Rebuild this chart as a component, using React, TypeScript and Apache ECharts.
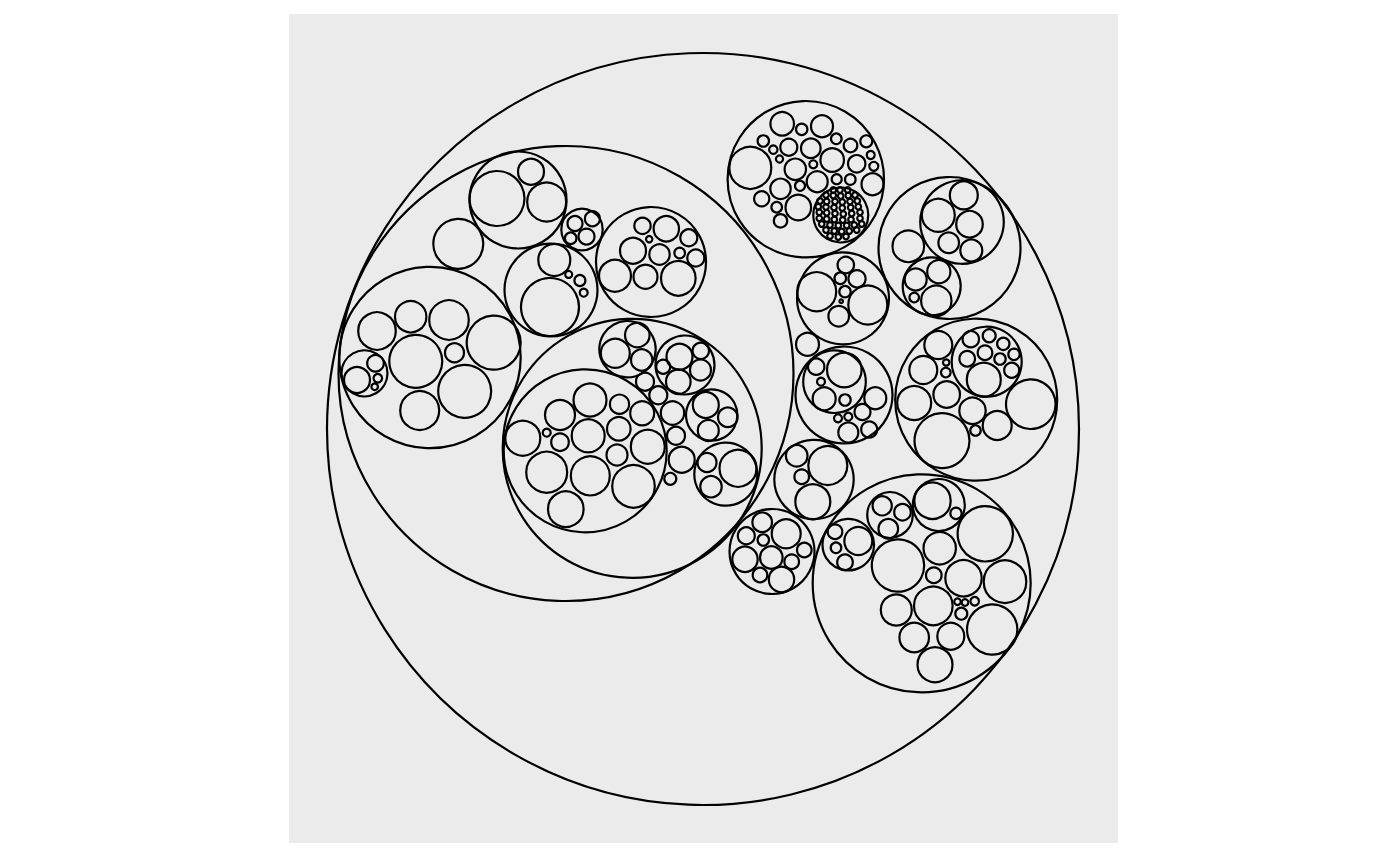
import React, { useEffect, useRef } from "react";
import * as echarts from "echarts";

// Circle-packing layout, each entry is [x, y, r] in the layout's own units
// (x to the right, y downward, panel spans 289..1118 by 14..843).
const outerCircle: number[][] = [[703, 429, 377]];

const westGroup: number[][] = [
  [566, 373.5, 228.5],
  // cluster A
  [518, 200, 49.5], [497, 198.5, 28.5], [531, 171.7, 14], [546.7, 202, 20.5],
  // lone
  [458.3, 243.8, 26],
  // cluster B
  [430, 357.5, 91.7], [377, 331, 19.8], [410.7, 316.7, 16.7], [449, 320, 20.8],
  [493.7, 342.7, 28], [415.8, 361.3, 27.5], [454.5, 352.8, 10.5], [464.7, 391.3, 27.5],
  [419.7, 410.5, 20.5], [364.5, 373.3, 24], [357, 380, 14], [375.5, 363.3, 9.3],
  [377.8, 378.3, 5.3], [374.7, 386.8, 4.3],
  // cluster C
  [551, 290, 47.5], [550, 307, 30], [554.3, 260, 17], [579.9, 280.5, 6.5],
  [568.7, 274.4, 4.5], [583.7, 292.7, 5],
  // cluster D
  [582, 229.5, 21.7], [575, 223.5, 8.5], [592.4, 218.7, 8.5], [586.5, 236.6, 9],
  [570.7, 238.3, 6.8],
  // cluster E
  [651, 262, 56], [642.5, 225.8, 9.2], [666.3, 228.7, 13.7], [688.8, 237.8, 9.5],
  [649.2, 239.2, 4.2], [633, 250.8, 14], [659.5, 254.5, 11.2], [679.7, 253, 6.3],
  [695.8, 258, 9.5], [615, 275.8, 17], [645.5, 276.7, 13], [678.3, 278.3, 18.3],
];

const westInnerGroup: number[][] = [
  [632.2, 448.3, 130.5],
  // cluster G
  [585.2, 450.8, 82.5], [522.8, 438.2, 18.5], [546.7, 432.7, 5], [560, 442.2, 9.8],
  [560, 415, 16], [590, 400, 17.5], [619.5, 404.2, 10.6], [642.2, 413.3, 13],
  [588.2, 435.8, 17.5], [618.8, 428.8, 12.8], [647.8, 446.7, 18], [617, 455, 11.5],
  [546.7, 472.2, 21.5], [590.3, 475.8, 20.5], [633.5, 486.3, 22.3], [565.8, 509.2, 18.8],
  // cluster H
  [627.5, 349.2, 29.2], [615.3, 353.3, 15.5], [637.3, 335, 13.3], [641.7, 360, 11.7],
  // cluster I
  [685, 365, 30.5], [679.5, 356.7, 14], [700.8, 350.8, 9.2], [700.5, 370, 11.5],
  [678.3, 381.7, 13.3], [663.2, 366.7, 8],
  // loose leaves
  [645, 381.7, 10], [658.3, 395.3, 10], [672.5, 413, 12.7], [676, 435.8, 10],
  [681.7, 459.7, 14], [670.3, 478.8, 7],
  // cluster J
  [711.7, 415, 26.7], [705.8, 405, 14], [727.8, 417.2, 10.8], [708.3, 430.5, 11.5],
  // cluster K
  [725.8, 474.2, 32.5], [738, 468.3, 19.5], [707, 462.5, 10.5], [711, 486.7, 11.7],
];

const northGroup: number[][] = [
  [805.8, 179.2, 79.2],
  [750.3, 167.8, 22], [782.2, 123.8, 12.8], [801.7, 129.3, 6.7], [822, 126.3, 12],
  [763.3, 141, 6.7], [773.3, 149.7, 5.2], [788.8, 147.2, 9.5], [810.8, 148.3, 10.8],
  [836.3, 138.8, 6.3], [850.5, 145.5, 7.8], [866.3, 141.3, 7], [832.2, 160, 12.8],
  [856.7, 163.8, 9.7], [870.7, 155, 5], [873.8, 166.3, 5.5], [779.5, 159, 4.6],
  [795.3, 169.3, 11.7], [813.3, 164.3, 5], [780.5, 188.8, 11.2], [800, 185.8, 6],
  [817.2, 181.7, 11.5], [836.7, 179.2, 6], [850.3, 179.5, 6.3], [872.5, 184.2, 12],
  [761.7, 198.8, 8.6], [776.7, 207.2, 6.3], [798.3, 207.5, 13.8], [780.5, 220.8, 7.7],
  [840.8, 215, 28.5],
];

const denseLeaves: number[][] = [
  [833.3, 190, 3.8], [840, 190, 3.8], [847.7, 190, 3.8],
  [826, 195, 3.8], [833.3, 195.5, 3.8], [840.7, 196, 3.8], [848.3, 195.5, 3.8], [855, 195, 3.8],
  [820, 201, 3.8], [826.7, 201.5, 3.8], [835, 201.5, 3.8], [842.3, 202, 3.8], [850, 201.5, 3.8], [857.3, 201, 3.8],
  [818.3, 206.7, 3.8], [826, 207, 3.8], [834, 207.5, 3.8], [842.3, 208, 3.8], [850.7, 207.5, 3.8], [858.3, 206.7, 3.8],
  [819.3, 212.3, 3.8], [826.7, 212.8, 3.8], [835, 213.5, 3.8], [843.3, 214, 3.8], [851.7, 213.5, 3.8], [860, 212.3, 3.8],
  [819.3, 218.3, 3.8], [826.7, 219, 3.8], [834.3, 219.5, 3.8], [842.7, 220, 3.8], [851, 219.5, 3.8], [860, 218.3, 3.8],
  [821.7, 224, 3.8], [830, 225, 3.8], [838.3, 225.5, 3.8], [846.7, 225.5, 3.8], [854.3, 225, 3.8], [861.7, 224, 3.8],
  [826, 230, 3.8], [834.3, 231, 3.8], [841.7, 231.5, 3.8], [849.3, 231, 3.8], [856.7, 230, 3.8],
  [830, 236, 3.8], [838.3, 237, 3.8], [846, 236.5, 3.8],
];

const northEastGroup: number[][] = [
  [949.5, 248, 72],
  [962, 222, 42.8], [963.8, 195.3, 15], [938.3, 215.3, 17.5], [969.5, 224.2, 14.3],
  [948.7, 242.8, 11.3], [971.3, 250.5, 12],
  [908.3, 246.3, 16.8],
  [931.7, 286.3, 30], [938.8, 271.7, 12.6], [915.7, 279.5, 12], [936.3, 300.8, 16.2],
  [914.2, 297.5, 5.8],
];

const centreGroup: number[][] = [
  // cluster N
  [843, 298.3, 47], [816.7, 291.7, 20.5], [845.8, 265, 9.2], [840.3, 278.3, 6.8],
  [857, 278.8, 9.6], [845, 291.7, 6.7], [841.2, 301.2, 2.8], [867.8, 305, 20.5],
  [838.7, 316.2, 11.3],
  // lone
  [807.5, 344.3, 12.5],
  // cluster O
  [844, 395, 49.5], [834.5, 381.7, 32.3], [844.3, 370, 18.3], [816.2, 366.7, 9.2],
  [821, 381.7, 5], [824.2, 398.8, 12.5], [845, 400, 6.7], [875.3, 398.3, 12],
  [862.5, 412, 9], [838, 418.3, 5], [848.3, 416.7, 5], [848.3, 432.5, 11],
  [869.2, 429.5, 9],
];

const eastGroup: number[][] = [
  [976.2, 399.7, 82],
  [986.7, 361.7, 36], [970.8, 339.2, 9.2], [989.2, 335.8, 7.5], [1003.3, 343.8, 7.2],
  [967.2, 358.8, 8.8], [985, 352.7, 8.3], [1000, 359, 6.7], [1014, 354.3, 6.7],
  [1011.7, 370.3, 8.5], [983.8, 379.7, 18],
  [938.3, 345, 15], [923.3, 370, 15], [946.2, 362.5, 4.2], [945.8, 372.5, 5.8],
  [914.2, 403, 18], [946.7, 394.5, 14.3], [972.5, 410.8, 14.2], [975.5, 430.5, 6.2],
  [997.2, 425.5, 15.5], [1030.8, 404.2, 25.8], [942, 440.7, 28.5],
];

const southGroup: number[][] = [
  // cluster Q
  [814, 479.5, 40.7], [796.7, 455.8, 11.8], [827.8, 465.5, 20.5], [801.7, 476.7, 8.3],
  [812.8, 501.7, 18.5],
  // cluster R
  [772, 551.5, 43.5], [762.2, 522.2, 10.8], [786.2, 533.8, 15.5], [746.3, 535.8, 9.5],
  [763.3, 540, 6.7], [804.3, 550, 8.3], [745, 559.2, 13.7], [771.3, 557.5, 12.3],
  [791.7, 561.7, 8.3], [760, 575, 8.3], [781.5, 579.5, 13.7],
  // cluster S
  [921.7, 583.3, 110],
  [848.3, 544.7, 26.8], [835, 531.7, 8.3], [858.3, 541, 15], [836, 547.8, 6.3], [845, 562.2, 8.8],
  [890, 515, 23.8], [882.2, 505.8, 10.6], [902.5, 512.2, 9.3], [888.3, 528.8, 10.8],
  [938.8, 505, 27], [932.5, 500.8, 19.2], [956, 513.3, 6.7],
  [985.3, 533.8, 28.7], [898, 565.5, 27.2], [939.7, 548.2, 17.2], [933.8, 575.3, 8.8],
  [963.5, 578.3, 19.2], [1005, 581.7, 22.3], [896.3, 610, 16.5], [933.3, 605.8, 20.3],
  [957.5, 601.7, 4.3], [965, 602.5, 4.3], [974.7, 601.3, 5.3], [961.3, 613.7, 7],
  [992.2, 629.5, 26.2], [914.2, 637.5, 15.8], [950.8, 636.3, 14.5], [935, 664.7, 18.5],
];

const allCircles: number[][] = [
  ...outerCircle,
  ...westGroup,
  ...westInnerGroup,
  ...northGroup,
  ...denseLeaves,
  ...northEastGroup,
  ...centreGroup,
  ...eastGroup,
  ...southGroup,
];

const LINE_WIDTH = 2.2;

export default function App() {
  const ref = useRef<HTMLDivElement>(null);

  useEffect(() => {
    if (!ref.current) return;
    const chart = echarts.init(ref.current, undefined, { renderer: "svg" });
    chart.setOption({
      animation: false,
      backgroundColor: "#FFFFFF",
      grid: {
        show: true,
        left: 289,
        top: 14,
        width: 829,
        height: 829,
        backgroundColor: "#EBEBEB",
        borderWidth: 0,
      },
      xAxis: { type: "value", min: 289, max: 1118, show: false },
      yAxis: { type: "value", min: 14, max: 843, inverse: true, show: false },
      series: [
        {
          type: "custom",
          coordinateSystem: "cartesian2d",
          silent: true,
          clip: false,
          encode: { x: 0, y: 1 },
          data: allCircles,
          renderItem: (params: any, api: any) => {
            const c = api.coord([api.value(0), api.value(1)]);
            const rp = Math.abs(api.size([api.value(2), 0])[0]);
            return {
              type: "circle",
              shape: { cx: c[0], cy: c[1], r: Math.max(rp - 1, 0.6) },
              style: { fill: "none", stroke: "#000000", lineWidth: LINE_WIDTH },
            };
          },
        },
      ],
    });
    return () => chart.dispose();
  }, []);

  return (
    <div
      ref={ref}
      style={{ position: "absolute", left: 0, top: 0, width: 1400, height: 866 }}
    />
  );
}
